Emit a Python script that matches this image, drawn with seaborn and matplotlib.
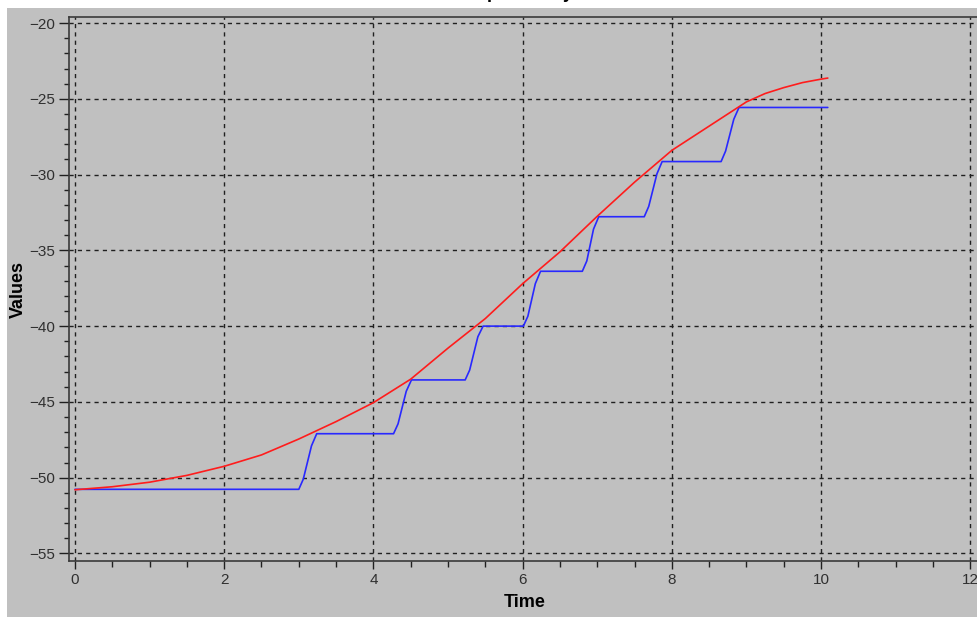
import matplotlib
matplotlib.use("Agg")
import matplotlib.pyplot as plt
import seaborn as sns
import pandas as pd
from matplotlib.patches import Rectangle
from matplotlib.ticker import MultipleLocator

# ---- data ----
red_time = [0.0, 0.5, 1.0, 1.5, 2.0, 2.5, 3.0, 3.5, 4.0, 4.5, 5.0, 5.5, 6.0,
            6.5, 7.0, 7.5, 8.0, 8.5, 8.75, 9.0, 9.25, 9.5, 9.75, 10.0, 10.09]
red_values = [-50.8, -50.6, -50.3, -49.85, -49.25, -48.5, -47.45, -46.3, -45.05,
              -43.5, -41.45, -39.5, -37.2, -35.1, -32.75, -30.5, -28.4, -26.8,
              -26.0, -25.2, -24.65, -24.26, -23.93, -23.7, -23.63]

blue_time = [0.0, 3.00, 3.06, 3.17, 3.24,
             4.27, 4.33, 4.44, 4.51,
             5.23, 5.29, 5.40, 5.47,
             6.01, 6.07, 6.17, 6.24,
             6.80, 6.86, 6.95, 7.02,
             7.63, 7.69, 7.80, 7.87,
             8.66, 8.72, 8.83, 8.90,
             10.09]
blue_values = [-50.77, -50.77, -50.1, -47.9, -47.1,
               -47.1, -46.45, -44.3, -43.55,
               -43.55, -42.9, -40.7, -40.0,
               -40.0, -39.35, -37.2, -36.38,
               -36.38, -35.7, -33.6, -32.78,
               -32.78, -32.1, -29.95, -29.14,
               -29.14, -28.45, -26.35, -25.57,
               -25.57]

x_ticks = [0, 2, 4, 6, 8, 10, 12]
y_ticks = [-55, -50, -45, -40, -35, -30, -25, -20]
title_text = "Input_Delay"
x_label = "Time"
y_label = "Values"

red_df = pd.DataFrame({"Time": red_time, "Values": red_values})
blue_df = pd.DataFrame({"Time": blue_time, "Values": blue_values})

sns.set_theme(style="white")
plt.rcParams["font.family"] = ["Liberation Sans", "DejaVu Sans"]

W, H = 978, 617
fig = plt.figure(figsize=(W / 100, H / 100), dpi=100)
fig.patch.set_facecolor("white")
bg = "#c0c0c0"
fig.patches.append(Rectangle((7 / W, 0), 1 - 7 / W, (H - 8) / H,
                             transform=fig.transFigure, facecolor=bg,
                             edgecolor="none", zorder=-10))

left, right = 69 / W, 980 / W
bottom, top = (H - 561) / H, (H - 17) / H
ax = fig.add_axes([left, bottom, right - left, top - bottom])
ax.set_facecolor(bg)

sns.lineplot(data=blue_df, x="Time", y="Values", ax=ax, color="#2828ff",
             linewidth=1.2, estimator=None, sort=False, zorder=3)
sns.lineplot(data=red_df, x="Time", y="Values", ax=ax, color="#ff1c1c",
             linewidth=1.2, estimator=None, sort=False, zorder=4)

ax.set_xlim(-0.08, 12.13)
ax.set_ylim(-55.5, -19.6)
ax.set_xticks(x_ticks)
ax.set_yticks(y_ticks)
ax.xaxis.set_minor_locator(MultipleLocator(0.5))
ax.yaxis.set_minor_locator(MultipleLocator(1))

ax.grid(True, which="major", color="#202020", linestyle=(0, (3, 3)), linewidth=1.0)
ax.set_axisbelow(True)

for s in ["left", "bottom", "top"]:
    ax.spines[s].set_visible(True)
    ax.spines[s].set_color("#3a3a3a")
    ax.spines[s].set_linewidth(1.2)
ax.spines["right"].set_visible(False)

ax.tick_params(axis="y", which="major", direction="out", length=7, width=1,
               color="#202020", labelsize=11, labelcolor="#303030", pad=3, left=True)
ax.tick_params(axis="y", which="minor", direction="out", length=3.5, width=1,
               color="#202020", left=True)
ax.tick_params(axis="x", which="major", direction="out", length=6, width=1,
               color="#202020", labelsize=11, labelcolor="#303030", pad=3, bottom=True)
ax.tick_params(axis="x", which="minor", direction="out", length=4, width=1,
               color="#202020", bottom=True)

ax.set_xlabel(x_label, fontsize=13, fontweight="bold", color="black", labelpad=5)
ax.set_ylabel(y_label, fontsize=13, fontweight="bold", color="black", labelpad=2)

fig.text(0.534, 1.0 + 2 / H, title_text, ha="center", va="baseline",
         fontsize=13, fontweight="bold", color="black")

fig.savefig("out.png", dpi=100, facecolor=fig.get_facecolor())
